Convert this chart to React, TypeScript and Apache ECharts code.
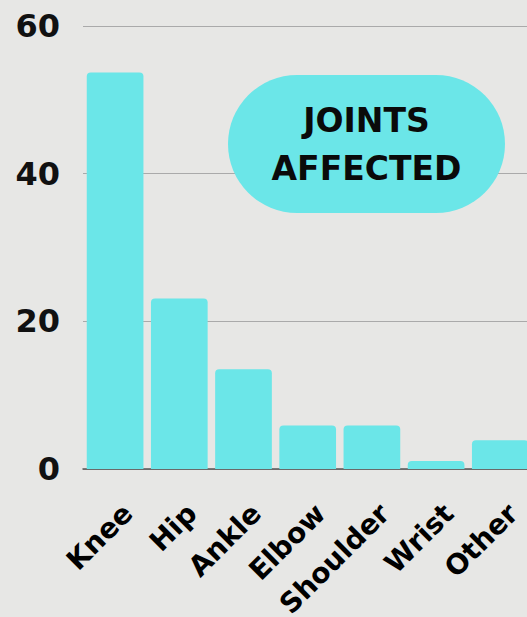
import React, { useEffect, useRef } from "react";
import * as echarts from "echarts";

const categories = ["Knee", "Hip", "Ankle", "Elbow", "Shoulder", "Wrist", "Other"];
const values = [53.7, 23.1, 13.5, 5.9, 5.9, 1.1, 3.9];
const yTicks = [0, 20, 40, 60];
const title = ["JOINTS", "AFFECTED"];

const FONT = "DejaVu Sans";
const CYAN = "#6be6e8";

export default function App() {
  const ref = useRef<HTMLDivElement>(null);
  useEffect(() => {
    document.body.style.margin = "0";
    const chart = echarts.init(ref.current!, null, { renderer: "svg" });
    chart.setOption({
      animation: false,
      backgroundColor: "#e7e7e5",
      grid: {
        left: 83,
        right: 0.6,
        top: 26,
        bottom: 148,
        containLabel: false,
        outerBoundsMode: "none",
      },
      xAxis: {
        type: "category",
        data: categories,
        axisLine: { show: true, lineStyle: { color: "#555", width: 1.5 } },
        axisTick: { show: false },
        axisLabel: {
          interval: 0,
          rotate: 45,
          margin: 27,
          verticalAlign: "top",
          lineHeight: 36,
          fontFamily: FONT,
          fontWeight: "bold",
          fontSize: 28,
          color: "#000",
        },
      },
      yAxis: {
        type: "value",
        min: yTicks[0],
        max: yTicks[yTicks.length - 1],
        interval: 20,
        axisLine: { show: false },
        axisTick: { show: false },
        splitLine: { lineStyle: { color: "#aaaaaa", width: 1 } },
        axisLabel: {
          margin: 23,
          fontFamily: FONT,
          fontWeight: "bold",
          fontSize: 32,
          color: "#111",
        },
      },
      series: [
        {
          type: "bar",
          data: values,
          barWidth: 56.7,
          itemStyle: { color: CYAN, borderRadius: [4, 4, 0, 0] },
        },
      ],
      graphic: [
        {
          type: "group",
          z: 100,
          children: [
            {
              type: "rect",
              z: 100,
              shape: { x: 228, y: 75, width: 277, height: 138, r: 69 },
              style: { fill: CYAN },
            },
            {
              type: "text",
              z: 101,
              x: 366.5,
              y: 144,
              style: {
                text: title.join("\n"),
                align: "center",
                verticalAlign: "middle",
                lineHeight: 48,
                font: `bold 33px "${FONT}"`,
                fill: "#0a0a0a",
              },
            },
          ],
        },
      ],
    });
    return () => chart.dispose();
  }, []);
  return (
    <div style={{ width: 527, height: 617, overflow: "hidden" }}>
      <div ref={ref} style={{ width: 533, height: 617 }} />
    </div>
  );
}
